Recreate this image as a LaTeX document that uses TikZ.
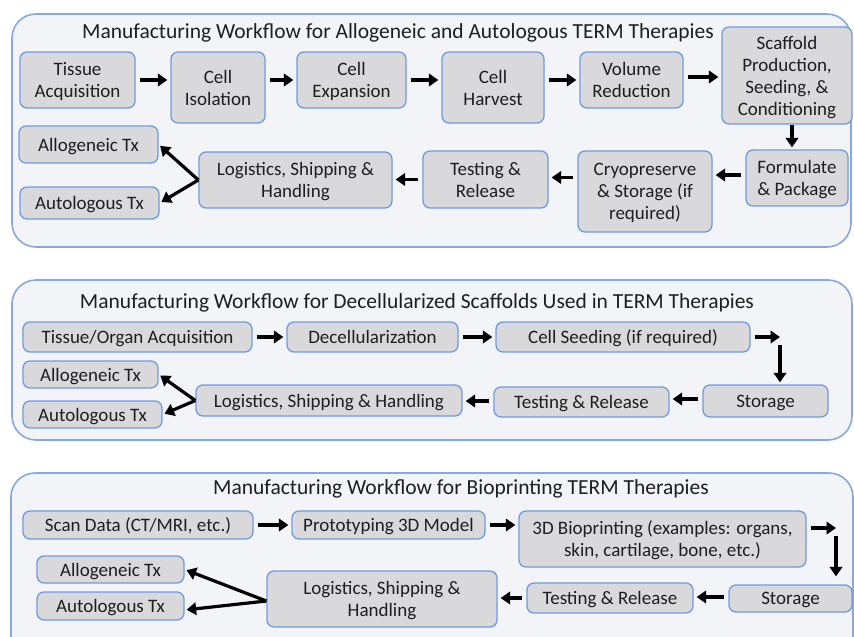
\documentclass[tikz,border=0pt]{standalone}
\usepackage{fontspec}
\setmainfont{Carlito}
\usetikzlibrary{arrows.meta,calc}
\definecolor{panelfill}{HTML}{F3F4F8}
\definecolor{panelblue}{HTML}{86AADF}
\definecolor{boxgray}{HTML}{D9D9DB}
\definecolor{boxblue}{HTML}{6F9BE0}
\definecolor{txt}{HTML}{1E1E1E}
\tikzset{
  panel/.style={draw=panelblue, line width=1.6pt, fill=panelfill, rounded corners=24pt},
  box/.style={draw=boxblue, line width=1.3pt, fill=boxgray, rounded corners=7pt,
    align=center, inner sep=0pt, text=txt, text depth=0pt, font=\fontsize{19}{22}\selectfont},
  ttl/.style={text=txt, inner sep=0pt, font=\fontsize{21.5}{25}\selectfont},
  arr/.style={-{Triangle[length=9.5pt,width=12.5pt]}, line width=3.2pt, black},
  gap/.style={shorten <=4pt, shorten >=3pt},
  bw/.style 2 args={minimum width=#1pt, minimum height=#2pt}
}
\begin{document}
\begin{tikzpicture}[x=1pt,y=-1pt]
\clip (0,0) rectangle (854,637);
\fill[white] (0,0) rectangle (854,637);

% ---------- Panel 1 ----------
\node[panel, bw={839}{233}, inner sep=0pt] (p1) at (431.5,130.5) {};
\node[ttl] (t1) at (398,33) {Manufacturing Workflow for Allogeneic and Autologous TERM Therapies};
\node[box, bw={115}{56}] (ta) at (77.5,80) {Tissue\\Acquisition};
\node[box, bw={94}{71}] (ci) at (218,87.5) {Cell\\Isolation};
\node[box, bw={109}{56}] (ce) at (351.5,80) {Cell\\Expansion};
\node[box, bw={102}{71}] (ch) at (493,87.5) {Cell\\Harvest};
\node[box, bw={103}{56}] (vr) at (631.5,80) {Volume\\Reduction};
\node[box, bw={130}{97}] (sp) at (787,75.5) {Scaffold\\Production,\\Seeding, \&\\Conditioning};
\node[box, bw={102}{56}] (fp) at (797,178) {Formulate\\\& Package};
\node[box, bw={134}{81}] (cs) at (645,191.5) {Cryopreserve\\\& Storage (if\\required)};
\node[box, bw={125}{57}] (tr) at (485.5,179.5) {Testing \&\\Release};
\node[box, bw={193}{56}] (lg) at (295.5,180) {Logistics, Shipping \&\\Handling};
\node[box, bw={139}{37}] (al) at (88.5,144.5) {Allogeneic Tx};
\node[box, bw={139}{32}] (au) at (89.5,203) {Autologous Tx};

\draw[arr,gap] (ta.east) -- (ta.east -| ci.west);
\draw[arr,gap] (ce.west -| ci.east) -- (ce.west);
\draw[arr,gap] (ce.east) -- (ce.east -| ch.west);
\draw[arr,gap] (vr.west -| ch.east) -- (vr.west);
\draw[arr,gap] ([yshift=3pt]vr.east) -- ([yshift=3pt]vr.east -| sp.west);
\draw[arr,shorten >=2pt] ([xshift=5pt]sp.south) -- ([xshift=5pt]sp.south |- fp.north);
\draw[arr,gap] ([yshift=3pt]fp.west) -- ([yshift=3pt]fp.west -| cs.east);
\draw[arr,gap] ([yshift=2pt]tr.east -| cs.west) -- ([yshift=2pt]tr.east);
\draw[arr,gap] (tr.west) -- (tr.west -| lg.east);
\draw[arr,shorten >=2pt] (lg.west) -- (al.east);
\draw[arr,shorten >=2pt] (lg.west) -- (au.east);

% ---------- Panel 2 ----------
\node[panel, bw={840}{160}, inner sep=0pt] (p2) at (432,360) {};
\node[ttl] (t2) at (417,303) {Manufacturing Workflow for Decellularized Scaffolds Used in TERM Therapies};
\node[box, bw={229}{30}] (toa) at (137.5,337) {Tissue/Organ Acquisition};
\node[box, bw={171}{30}] (dc) at (372.5,337) {Decellularization};
\node[box, bw={254}{30}] (cseed) at (623,337) {Cell Seeding (if required)};
\node[box, bw={135}{27}] (al2) at (90.5,374.5) {Allogeneic Tx};
\node[box, bw={139}{27}] (au2) at (92.5,414.5) {Autologous Tx};
\node[box, bw={266}{31}] (lg2) at (329,400.5) {Logistics, Shipping \& Handling};
\node[box, bw={175}{30}] (tr2) at (581.5,402) {Testing \& Release};
\node[box, bw={125}{32}] (st2) at (765.5,401) {Storage};
\coordinate (k2) at (780,337);

\draw[arr,gap] (toa.east) -- (toa.east -| dc.west);
\draw[arr,gap] (dc.east) -- (dc.east -| cseed.west);
\draw[arr,shorten <=4pt] (cseed.east) -- (k2);
\draw[arr,shorten >=2pt] ([yshift=-8pt]k2) -- (k2 |- st2.north);
\draw[arr,gap] ([yshift=2pt]st2.west) -- ([yshift=2pt]st2.west -| tr2.east);
\draw[arr,gap] ([yshift=1pt]tr2.west) -- ([yshift=1pt]tr2.west -| lg2.east);
\draw[arr,shorten >=2pt] (lg2.west) -- (al2.east);
\draw[arr,shorten >=2pt] (lg2.west) -- (au2.east);

% ---------- Panel 3 ----------
\node[panel, bw={842}{190}, inner sep=0pt] (p3) at (432,568) {};
\node[ttl] (t3) at (461,489) {Manufacturing Workflow for Bioprinting TERM Therapies};
\node[box, bw={230}{28}] (sd) at (138,525) {Scan Data (CT/MRI, etc.)};
\node[box, bw={193}{28}] (pm) at (388.5,525) {Prototyping 3D Model};
\node[box, bw={287}{56}] (bp) at (662.5,539) {3D Bioprinting (examples: organs,\\skin, cartilage, bone, etc.)};
\node[box, bw={147}{27}] (al3) at (110.5,569.5) {Allogeneic Tx};
\node[box, bw={147}{28}] (au3) at (110.5,606) {Autologous Tx};
\node[box, bw={230}{56}] (lg3) at (382,599) {Logistics, Shipping \&\\Handling};
\node[box, bw={166}{30}] (tr3) at (610,598) {Testing \& Release};
\node[box, bw={123}{27}] (st3) at (790.5,598.5) {Storage};
\coordinate (k3) at (836,528);

\draw[arr,gap] (sd.east) -- (sd.east -| pm.west);
\draw[arr,gap] (pm.east) -- (pm.east -| bp.west);
\draw[arr,shorten <=4pt] (k3 -| bp.east) -- (k3);
\draw[arr,shorten >=8pt] ([yshift=-8pt]k3) -- (k3 |- st3.north);
\draw[arr,gap] ([yshift=1.5pt]st3.west) -- ([yshift=1.5pt]st3.west -| tr3.east);
\draw[arr,gap] (tr3.west) -- (tr3.west -| lg3.east);
\draw[arr,shorten >=2pt] ([yshift=-2pt]lg3.west) -- (al3.east);
\draw[arr,shorten >=2pt] ([yshift=-2pt]lg3.west) -- ([yshift=-4pt]au3.east);
\end{tikzpicture}
\end{document}
